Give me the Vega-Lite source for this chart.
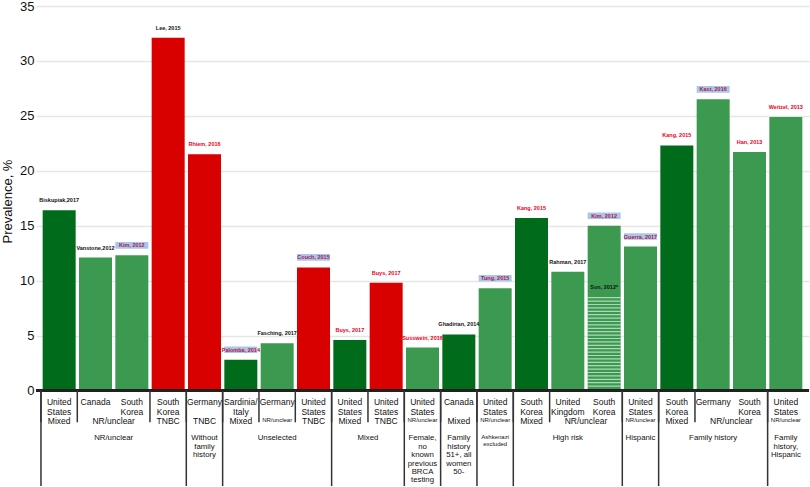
{
  "$schema": "https://vega.github.io/schema/vega-lite/v6.json",
  "width": 810,
  "height": 487,
  "autosize": {"type": "fit", "contains": "padding"},
  "padding": {"left": 1, "top": 0, "right": 0, "bottom": 0},
  "background": "white",
  "data": {
    "values": [
      {"idx": 1, "country": "United\nStates", "sub": "Mixed", "grp": "NR/unclear", "study": "Biskupiak,2017", "value": 16.4, "lab": "plain"},
      {"idx": 2, "country": "Canada", "sub": "NR/unclear", "grp": "NR/unclear", "study": "Vanstone,2012", "value": 12.1, "lab": "plain"},
      {"idx": 3, "country": "South\nKorea", "sub": "NR/unclear", "grp": "NR/unclear", "study": "Kim, 2012", "value": 12.3, "lab": "boxed"},
      {"idx": 4, "country": "South\nKorea", "sub": "TNBC", "grp": "NR/unclear", "study": "Lee, 2015", "value": 32.1, "lab": "plain"},
      {"idx": 5, "country": "Germany", "sub": "TNBC", "grp": "Without\nfamily\nhistory", "study": "Rhiem, 2016", "value": 21.5, "lab": "red"},
      {"idx": 6, "country": "Sardinia/\nItaly", "sub": "Mixed", "grp": "Unselected", "study": "Palomba, 2014", "value": 2.8, "lab": "boxed"},
      {"idx": 7, "country": "Germany", "sub": "NR/unclear", "grp": "Unselected", "study": "Fasching, 2017", "value": 4.3, "lab": "plain"},
      {"idx": 8, "country": "United\nStates", "sub": "TNBC", "grp": "Unselected", "study": "Couch, 2015", "value": 11.2, "lab": "boxed"},
      {"idx": 9, "country": "United\nStates", "sub": "Mixed", "grp": "Mixed", "study": "Buys, 2017", "value": 4.6, "lab": "red"},
      {"idx": 10, "country": "United\nStates", "sub": "TNBC", "grp": "Mixed", "study": "Buys, 2017", "value": 9.8, "lab": "red"},
      {"idx": 11, "country": "United\nStates", "sub": "NR/unclear", "grp": "Female,\nno\nknown\nprevious\nBRCA\ntesting", "study": "Susswein, 2016", "value": 3.9, "lab": "red"},
      {"idx": 12, "country": "Canada", "sub": "Mixed", "grp": "Family\nhistory\n51+, all\nwomen\n50-", "study": "Ghadirian, 2014", "value": 5.1, "lab": "plain"},
      {"idx": 13, "country": "United\nStates", "sub": "NR/unclear", "grp": "Ashkenazi\nexcluded", "study": "Tung, 2015", "value": 9.3, "lab": "boxed"},
      {"idx": 14, "country": "South\nKorea", "sub": "Mixed", "grp": "High risk", "study": "Kang, 2015", "value": 15.7, "lab": "red"},
      {"idx": 15, "country": "United\nKingdom", "sub": "NR/unclear", "grp": "High risk", "study": "Rahman, 2017", "value": 10.8, "lab": "plain"},
      {"idx": 16, "country": "South\nKorea", "sub": "NR/unclear", "grp": "High risk", "study": "Kim, 2012", "value": 15.0, "lab": "boxed", "inner": 8.5, "innerStudy": "Son, 2012*"},
      {"idx": 17, "country": "United\nStates", "sub": "NR/unclear", "grp": "Hispanic", "study": "Guerra, 2017", "value": 13.1, "lab": "boxed"},
      {"idx": 18, "country": "South\nKorea", "sub": "Mixed", "grp": "Family history", "study": "Kang, 2015", "value": 22.3, "lab": "red"},
      {"idx": 19, "country": "Germany", "sub": "NR/unclear", "grp": "Family history", "study": "Kast, 2016", "value": 26.5, "lab": "boxed"},
      {"idx": 20, "country": "South\nKorea", "sub": "NR/unclear", "grp": "Family history", "study": "Han, 2013", "value": 21.7, "lab": "red"},
      {"idx": 21, "country": "United\nStates", "sub": "NR/unclear", "grp": "Family\nhistory,\nHispanic", "study": "Weitzel, 2013", "value": 24.9, "lab": "red"}
    ]
  },
  "layer": [
    {
      "mark": {"type": "bar", "size": 33},
      "encoding": {
        "x": {"field": "idx", "type": "quantitative", "scale": {"domain": [0.5, 21.5], "nice": false, "zero": false}, "axis": null},
        "y": {
          "field": "value",
          "type": "quantitative",
          "scale": {"domain": [-8.7, 35], "nice": false, "zero": false},
          "axis": {
            "values": [0, 5, 10, 15, 20, 25, 30, 35],
            "title": "Prevalence, %",
            "titleFontSize": 13,
            "titleFontWeight": "normal",
            "titleColor": "#111",
            "titleY": 195,
            "titlePadding": 5,
            "labelFontSize": 13,
            "labelColor": "#111",
            "labelPadding": 2,
            "domain": false,
            "ticks": false,
            "grid": true,
            "gridColor": "#e6e6e6",
            "gridWidth": 1.5
          }
        },
        "y2": {"datum": 0},
        "color": {
          "field": "sub",
          "type": "nominal",
          "scale": {"domain": ["Mixed", "NR/unclear", "TNBC"], "range": ["#006b1b", "#3b9a50", "#d90000"]},
          "legend": null
        }
      }
    },
    {
      "transform": [{"filter": "isValid(datum.inner)"}],
      "mark": {"type": "rule", "strokeWidth": 33, "strokeDash": [1.2, 2.2], "color": "white", "opacity": 0.6},
      "encoding": {
        "x": {"field": "idx", "type": "quantitative", "scale": {"domain": [0.5, 21.5], "nice": false, "zero": false}, "axis": null},
        "y": {"field": "inner", "type": "quantitative", "title": "Prevalence, %"},
        "y2": {"datum": 0}
      }
    },
    {
      "transform": [{"filter": "datum.lab == 'boxed'"}],
      "mark": {"type": "point", "shape": "M-1,-0.2L1,-0.2L1,0.2L-1,0.2Z", "size": 1089, "filled": true, "opacity": 1, "color": "#a9c7ec", "yOffset": -10},
      "encoding": {
        "x": {"field": "idx", "type": "quantitative", "scale": {"domain": [0.5, 21.5], "nice": false, "zero": false}, "axis": null},
        "y": {"field": "value", "type": "quantitative", "title": "Prevalence, %"}
      }
    },
    {
      "mark": {"type": "text", "dy": -10, "fontSize": 5.5, "fontWeight": "bold", "baseline": "middle", "font": "Liberation Sans"},
      "encoding": {
        "x": {"field": "idx", "type": "quantitative", "scale": {"domain": [0.5, 21.5], "nice": false, "zero": false}, "axis": null},
        "y": {"field": "value", "type": "quantitative", "title": "Prevalence, %"},
        "text": {"field": "study"},
        "color": {
          "condition": [
            {"test": "datum.lab == 'red'", "value": "#e8001c"},
            {"test": "datum.lab == 'boxed'", "value": "#b3163f"}
          ],
          "value": "#111111"
        }
      }
    },
    {
      "transform": [{"filter": "isValid(datum.inner)"}],
      "mark": {"type": "text", "dy": -10, "fontSize": 5.5, "fontWeight": "bold", "baseline": "middle", "color": "#111", "font": "Liberation Sans"},
      "encoding": {
        "x": {"field": "idx", "type": "quantitative", "scale": {"domain": [0.5, 21.5], "nice": false, "zero": false}, "axis": null},
        "y": {"field": "inner", "type": "quantitative", "title": "Prevalence, %"},
        "text": {"field": "innerStudy"}
      }
    },
    {
      "mark": {"type": "rule", "color": "#222", "strokeWidth": 1.5},
      "encoding": {"y": {"datum": 0}}
    },
    {
      "transform": [{"aggregate": [{"op": "min", "field": "idx", "as": "lo"}], "groupby": ["grp", "sub"]}],
      "mark": {"type": "rule", "color": "#333", "strokeWidth": 1.5, "xOffset": -18.2},
      "encoding": {
        "x": {"field": "lo", "type": "quantitative", "scale": {"domain": [0.5, 21.5], "nice": false, "zero": false}, "axis": null},
        "y": {"datum": 0},
        "y2": {"datum": -2.9}
      }
    },
    {
      "transform": [{"aggregate": [{"op": "min", "field": "idx", "as": "lo"}], "groupby": ["grp"]}],
      "mark": {"type": "rule", "color": "#333", "strokeWidth": 1.5, "xOffset": -18.2},
      "encoding": {
        "x": {"field": "lo", "type": "quantitative", "scale": {"domain": [0.5, 21.5], "nice": false, "zero": false}, "axis": null},
        "y": {"datum": 0},
        "y2": {"datum": -8.7}
      }
    },
    {
      "mark": {"type": "text", "baseline": "top", "dy": 8, "lineBreak": "\n", "lineHeight": 9.5, "fontSize": 8.5, "color": "#111", "font": "Liberation Sans"},
      "encoding": {
        "x": {"field": "idx", "type": "quantitative", "scale": {"domain": [0.5, 21.5], "nice": false, "zero": false}, "axis": null},
        "y": {"datum": 0},
        "text": {"field": "country"}
      }
    },
    {
      "transform": [{"aggregate": [{"op": "mean", "field": "idx", "as": "mid"}, {"op": "count", "as": "n"}], "groupby": ["grp", "sub"]}],
      "mark": {"type": "text", "baseline": "top", "dy": 27, "color": "#111", "font": "Liberation Sans"},
      "encoding": {
        "x": {"field": "mid", "type": "quantitative", "scale": {"domain": [0.5, 21.5], "nice": false, "zero": false}, "axis": null},
        "y": {"datum": 0},
        "text": {"field": "sub"},
        "size": {"condition": {"test": "datum.n == 1 && datum.sub == 'NR/unclear'", "value": 6}, "value": 8.5}
      }
    },
    {
      "transform": [
        {"filter": "indexof(datum.grp, 'Ashkenazi') < 0"},
        {"aggregate": [{"op": "mean", "field": "idx", "as": "mid"}], "groupby": ["grp"]}
      ],
      "mark": {"type": "text", "baseline": "top", "dy": 44, "lineBreak": "\n", "lineHeight": 8.4, "fontSize": 7.8, "color": "#111", "font": "Liberation Sans"},
      "encoding": {
        "x": {"field": "mid", "type": "quantitative", "scale": {"domain": [0.5, 21.5], "nice": false, "zero": false}, "axis": null},
        "y": {"datum": 0},
        "text": {"field": "grp"}
      }
    },
    {
      "transform": [
        {"filter": "indexof(datum.grp, 'Ashkenazi') >= 0"},
        {"aggregate": [{"op": "mean", "field": "idx", "as": "mid"}], "groupby": ["grp"]}
      ],
      "mark": {"type": "text", "baseline": "top", "dy": 44, "lineBreak": "\n", "lineHeight": 6.5, "fontSize": 6, "color": "#111", "font": "Liberation Sans"},
      "encoding": {
        "x": {"field": "mid", "type": "quantitative", "scale": {"domain": [0.5, 21.5], "nice": false, "zero": false}, "axis": null},
        "y": {"datum": 0},
        "text": {"field": "grp"}
      }
    }
  ],
  "config": {
    "view": {"stroke": null},
    "font": "Liberation Sans"
  }
}
